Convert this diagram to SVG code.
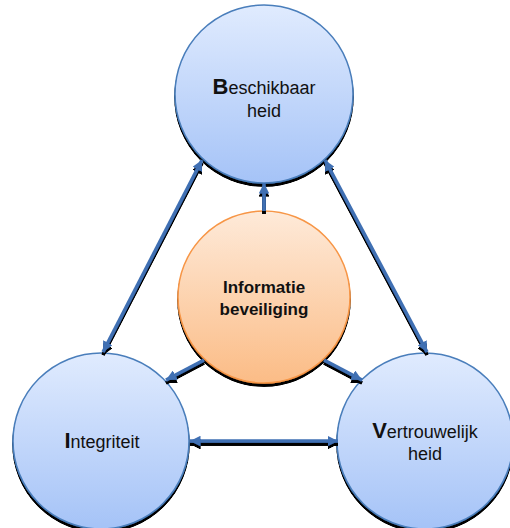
<svg xmlns="http://www.w3.org/2000/svg" width="510" height="528" viewBox="0 0 510 528">
  <style>
    .label { font-family: "Liberation Sans", Arial, sans-serif; font-size: 18px; fill: #111; text-anchor: middle; }
    .initial { font-weight: bold; font-size: 22px; }
    .core { font-family: "Liberation Sans", Arial, sans-serif; font-size: 17px; font-weight: bold; fill: #111; text-anchor: middle; }
    .blue { fill: url(#blueFill); stroke: #4a7ebb; stroke-width: 1.5; filter: url(#shadow); }
    .orange { fill: url(#orangeFill); stroke: #f79646; stroke-width: 1.5; filter: url(#shadow); }
    .link { stroke: #3f6fb3; stroke-width: 3.5; fill: none; }
  </style>
  <defs>
    <linearGradient id="blueFill" x1="0" y1="0" x2="0" y2="1">
      <stop offset="0" stop-color="#e0ebfe"/>
      <stop offset="1" stop-color="#a5c3f7"/>
    </linearGradient>
    <linearGradient id="orangeFill" x1="0" y1="0" x2="0" y2="1">
      <stop offset="0" stop-color="#feead9"/>
      <stop offset="1" stop-color="#fbbc86"/>
    </linearGradient>
    <!-- dark drop shadow falling straight down -->
    <filter id="shadow" x="-20%" y="-20%" width="140%" height="140%">
      <feGaussianBlur in="SourceAlpha" stdDeviation="0.6" result="b"/>
      <feOffset in="b" dx="0" dy="3" result="o"/>
      <feComponentTransfer in="o" result="s">
        <feFuncA type="linear" slope="1.3"/>
      </feComponentTransfer>
      <feMerge>
        <feMergeNode in="s"/>
        <feMergeNode in="SourceGraphic"/>
      </feMerge>
    </filter>
    <marker id="head" viewBox="0 0 10 10" refX="10" refY="5" markerWidth="3" markerHeight="3" orient="auto-start-reverse" markerUnits="strokeWidth">
      <path d="M0,0 L10,5 L0,10 z" fill="#3f6fb3"/>
    </marker>
  </defs>

  <!-- circles -->
  <g id="beschikbaarheid">
    <circle class="blue" cx="264" cy="94" r="89"/>
    <text class="label" x="264" y="94"><tspan class="initial">B</tspan>eschikbaar</text>
    <text class="label" x="264" y="117">heid</text>
  </g>
  <g id="informatiebeveiliging">
    <circle class="orange" cx="264" cy="297" r="86"/>
    <text class="core" x="264" y="293">Informatie</text>
    <text class="core" x="264" y="315">beveiliging</text>
  </g>
  <g id="integriteit">
    <circle class="blue" cx="101" cy="441" r="88"/>
    <text class="label" x="102" y="448"><tspan class="initial">I</tspan>ntegriteit</text>
  </g>
  <g id="vertrouwelijkheid">
    <circle class="blue" cx="425" cy="441" r="88"/>
    <text class="label" x="425" y="438"><tspan class="initial">V</tspan>ertrouwelijk</text>
    <text class="label" x="425" y="460">heid</text>
  </g>

  <!-- connectors -->
  <g id="connectors" filter="url(#shadow)">
    <line class="link" x1="202" y1="160" x2="103" y2="352" marker-start="url(#head)" marker-end="url(#head)"/>
    <line class="link" x1="325" y1="160" x2="427" y2="352" marker-start="url(#head)" marker-end="url(#head)"/>
    <line class="link" x1="190" y1="441" x2="338" y2="441" marker-start="url(#head)" marker-end="url(#head)"/>
    <line class="link" x1="264" y1="211" x2="264" y2="183" marker-end="url(#head)"/>
    <line class="link" x1="204" y1="360" x2="166" y2="380" marker-end="url(#head)"/>
    <line class="link" x1="324" y1="360" x2="362" y2="380" marker-end="url(#head)"/>
  </g>
</svg>
